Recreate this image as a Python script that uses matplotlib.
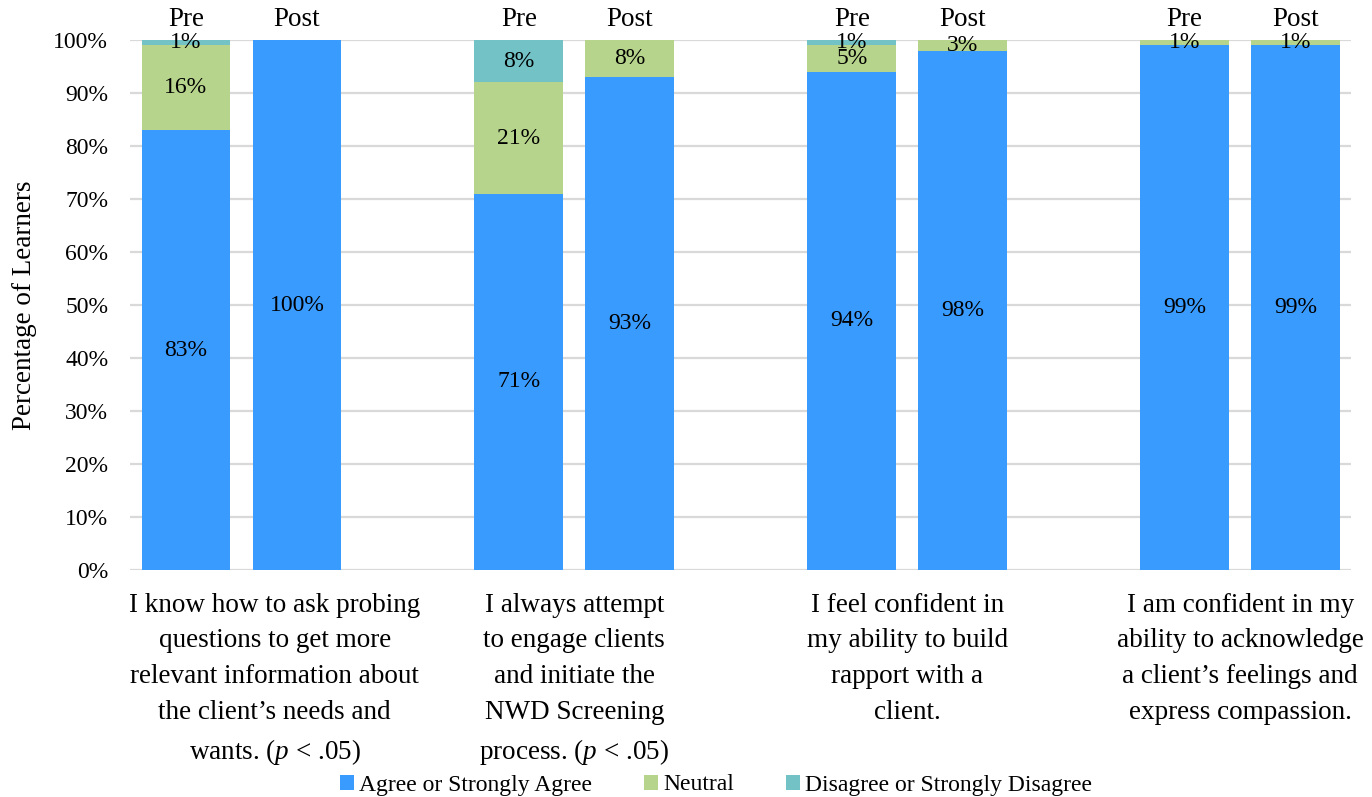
import matplotlib
matplotlib.use("Agg")
import matplotlib.pyplot as plt
from matplotlib.patches import Patch
from matplotlib.transforms import blended_transform_factory
import numpy as np

plt.rcParams['font.family'] = ['Liberation Serif', 'DejaVu Serif']
plt.rcParams['mathtext.fontset'] = 'custom'
plt.rcParams['mathtext.rm'] = 'Liberation Serif'
plt.rcParams['mathtext.it'] = 'Liberation Serif:italic'

# Survey items (one group of Pre/Post bars each)
items = [
    "I know how to ask probing\nquestions to get more\nrelevant information about\nthe client\u2019s needs and\nwants. ($\\mathit{p}$ < .05)",
    "I always attempt\nto engage clients\nand initiate the\nNWD Screening\nprocess. ($\\mathit{p}$ < .05)",
    "I feel confident in\nmy ability to build\nrapport with a\nclient.",
    "I am confident in my\nability to acknowledge\na client\u2019s feelings and\nexpress compassion.",
]
phases = ["Pre", "Post"]

# Percentages per bar, ordered item1-Pre, item1-Post, item2-Pre, ...
agree = [83, 100, 71, 93, 94, 98, 99, 99]
neutral = [16, 0, 21, 8, 5, 3, 1, 1]
disagree = [1, 0, 8, 0, 1, 0, 0, 0]

series_names = ["Agree or Strongly Agree", "Neutral", "Disagree or Strongly Disagree"]
colors = ["#3A9BFF", "#B6D48B", "#72C2C6"]

fig = plt.figure(figsize=(13.72, 7.97), dpi=100)
ax = fig.add_axes([0.0951, 0.2848, 0.8897, 0.665])

# Bars sit in slots of three: Pre, Post, then an empty slot between items
xpos = []
for g in range(len(items)):
    xpos += [3 * g, 3 * g + 1]
xpos = np.array(xpos, dtype=float)

fs = 17        # ticks, value labels, legend
fs_big = 19.5  # headers, item labels, axis title

bottom = np.zeros(len(agree))
for vals, name, col in zip([agree, neutral, disagree], series_names, colors):
    vals = np.array(vals, dtype=float)
    ax.bar(xpos, vals, width=0.8, bottom=bottom, color=col, zorder=3,
           edgecolor='none')
    for x, b, v in zip(xpos, bottom, vals):
        if v > 0:
            top = min(b + v, 100)
            ax.text(x, (b + top) / 2, f"{v:.0f}%", ha='center', va='center',
                    fontsize=fs, zorder=4)
    bottom = bottom + vals

ax.set_xlim(-0.5, 10.5)
ax.set_ylim(0, 100)
ax.set_yticks(np.arange(0, 101, 10))
ax.set_yticklabels([f"{t}%" for t in range(0, 101, 10)], fontsize=fs)
ax.tick_params(axis='y', length=0, pad=16)
ax.set_xticks([])
ax.yaxis.grid(True, color='#D9D9D9', linewidth=1.6, zorder=0)
ax.set_axisbelow(True)
for s in ax.spines.values():
    s.set_visible(False)

ax.set_ylabel("Percentage of Learners", fontsize=fs_big, labelpad=12)

trans = blended_transform_factory(ax.transData, ax.transAxes)
# Pre / Post headers above each bar
for i, x in enumerate(xpos):
    ax.text(x, 1.038, phases[i % 2], ha='center', va='center', fontsize=fs_big,
            transform=trans, clip_on=False)

# Item labels beneath each pair of bars
label_x = [0.8, 3.5, 6.5, 9.5]
for lx, txt in zip(label_x, items):
    ax.text(lx, -0.043, txt, ha='center', va='top', fontsize=fs_big,
            linespacing=1.56, transform=trans, clip_on=False)

handles = [Patch(facecolor=c, edgecolor='none') for c in colors]
fig.legend(handles, series_names, loc='center', bbox_to_anchor=(716 / 1372, 1 - 785 / 797),
           ncol=3, frameon=False, fontsize=fs, handlelength=0.6, handleheight=0.6,
           handletextpad=0.2, columnspacing=2.2)

fig.savefig("out.png", dpi=100)
